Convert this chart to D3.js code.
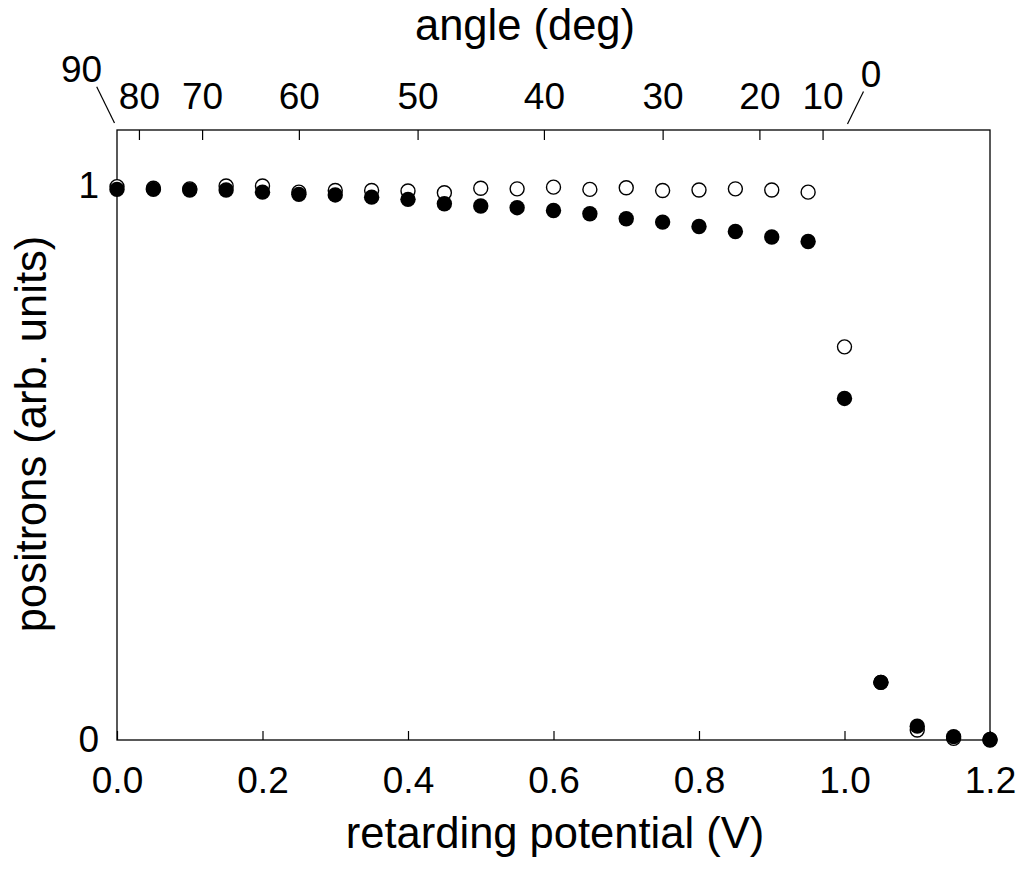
<!DOCTYPE html>
<html><head><meta charset="utf-8">
<script src="https://cdn.jsdelivr.net/npm/d3@7"></script>
<style>
html,body{margin:0;padding:0;background:#fff;}
text{font-family:"Liberation Sans",Arial,sans-serif;fill:#000;}
</style></head>
<body>
<svg id="chart" width="1018" height="878"></svg>
<script>
// ---- data ----
const potential = [0.00,0.05,0.10,0.15,0.20,0.25,0.30,0.35,0.40,0.45,0.50,0.55,0.60,0.65,0.70,0.75,0.80,0.85,0.90,0.95,1.00,1.05,1.10,1.15,1.20];
const openSeries = [0.998,0.995,0.994,0.999,0.999,0.988,0.991,0.991,0.990,0.987,0.995,0.994,0.997,0.993,0.996,0.991,0.992,0.994,0.992,0.988,0.709,0.104,0.018,0.003,0.000];
const filledSeries = [0.993,0.993,0.992,0.992,0.988,0.984,0.983,0.979,0.975,0.967,0.963,0.960,0.955,0.949,0.940,0.934,0.926,0.917,0.907,0.899,0.616,0.104,0.025,0.006,0.001];
const xMajorTicks = [0,0.2,0.4,0.6,0.8,1.0,1.2];
const yLabelTicks = [0,1];
const angleMajor = [80,70,60,50,40,30,20,10];
const angleEnds = [90,0];
const xTitle = "retarding potential (V)";
const yTitle = "positrons (arb. units)";
const topTitle = "angle (deg)";

const svg = d3.select("#chart");
const L=117, R=990, T=130, B=740;
const x = d3.scaleLinear().domain([0,1.2]).range([L,R]);
const y = d3.scaleLinear().domain([0,1]).range([B,185.5]);
const angleToV = a => Math.pow(Math.cos(a*Math.PI/180),2);

const tickFs = 37, titleFs = 43.5;
const FF = "Liberation Sans, Arial, sans-serif";

// bottom axis
const xMinor = d3.range(0,1.2001,0.04).filter(v=>!xMajorTicks.some(m=>Math.abs(m-v)<1e-6));
const gB = svg.append("g").attr("transform",`translate(0,${B})`);
gB.call(d3.axisBottom(x).tickValues(xMinor).tickSize(-5).tickFormat("")).call(g=>g.select(".domain").remove());
gB.call(d3.axisBottom(x).tickValues(xMajorTicks).tickSize(-9).tickPadding(27).tickFormat(d3.format(".1f")))
  .call(g=>g.select(".domain").remove())
  .selectAll("text").attr("font-size",tickFs).attr("font-family",FF);

// left axis
const yMinor = d3.range(0.1,0.95,0.1);
const gL = svg.append("g").attr("transform",`translate(${L},0)`);
gL.call(d3.axisLeft(y).tickValues(yMinor).tickSize(-6).tickFormat("")).call(g=>g.select(".domain").remove());
gL.call(d3.axisLeft(y).tickValues(yLabelTicks).tickSize(0).tickPadding(18).tickFormat(d3.format("d")))
  .call(g=>g.select(".domain").remove())
  .selectAll("text").attr("font-size",tickFs).attr("font-family",FF);

// top axis (angle)
const angleMinor = d3.range(2,90,2).filter(a=>a%10!==0);
const gT = svg.append("g").attr("transform",`translate(0,${T})`);
gT.call(d3.axisTop(x).tickValues(angleMinor.map(angleToV)).tickSize(-5).tickFormat("")).call(g=>g.select(".domain").remove());
gT.call(d3.axisTop(x).tickValues(angleMajor.map(angleToV)).tickSize(-10).tickPadding(21)
   .tickFormat((v,i)=>angleMajor[i]))
  .call(g=>g.select(".domain").remove())
  .selectAll("text").attr("font-size",tickFs).attr("font-family",FF);
svg.selectAll(".tick line").attr("stroke","#000").attr("stroke-width",1.2);

// end labels with leader lines
svg.append("text").attr("x",81.5).attr("y",82).attr("text-anchor","middle").attr("font-size",tickFs).text(angleEnds[0]);
svg.append("line").attr("x1",96.7).attr("y1",86.7).attr("x2",x(angleToV(90))-2.5).attr("y2",T-7).attr("stroke","#000").attr("stroke-width",1.2);
svg.append("text").attr("x",871).attr("y",86.5).attr("text-anchor","middle").attr("font-size",tickFs).text(angleEnds[1]);
svg.append("line").attr("x1",863.5).attr("y1",91.5).attr("x2",x(angleToV(0))+3).attr("y2",T-6).attr("stroke","#000").attr("stroke-width",1.2);

// frame
svg.append("rect").attr("x",L).attr("y",T).attr("width",R-L).attr("height",B-T)
  .attr("fill","none").attr("stroke","#000").attr("stroke-width",1.3);

// data points: open first, filled on top
svg.append("g").selectAll("circle").data(potential).join("circle")
  .attr("cx",(d,i)=>x(d)).attr("cy",(d,i)=>y(openSeries[i])).attr("r",7)
  .attr("fill","#fff").attr("stroke","#000").attr("stroke-width",1.4);
svg.append("g").selectAll("circle").data(potential).join("circle")
  .attr("cx",(d,i)=>x(d)).attr("cy",(d,i)=>y(filledSeries[i])).attr("r",7.7)
  .attr("fill","#000");

// titles
svg.append("text").attr("x",555).attr("y",848).attr("text-anchor","middle").attr("font-size",titleFs).text(xTitle);
svg.append("text").attr("x",525).attr("y",40).attr("text-anchor","middle").attr("font-size",titleFs).text(topTitle);
svg.append("text").attr("transform",`translate(46,434) rotate(-90)`).attr("text-anchor","middle").attr("font-size",titleFs).text(yTitle);
</script>
</body></html>
